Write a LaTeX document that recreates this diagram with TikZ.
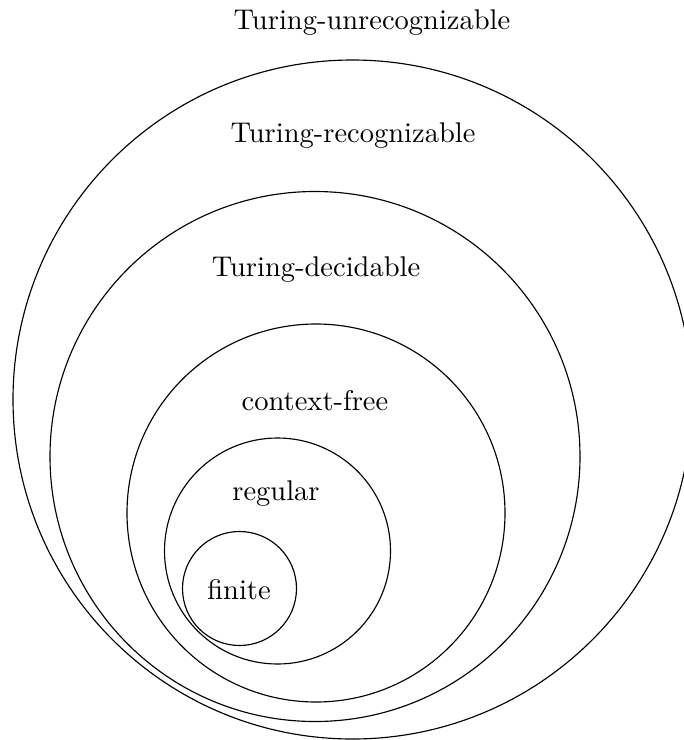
\documentclass[tikz,border=0pt]{standalone}
\begin{document}
\begin{tikzpicture}[x=0.35088pt,y=-0.35088pt,
  ring/.style={draw=black,line width=0.4pt},
  lbl/.style={anchor=base,inner sep=0pt,font=\normalsize}]
\useasboundingbox (0,0) rectangle (684,740);
\clip (0,0) rectangle (684,740);
\draw[ring] (352.5,399.5) circle [radius=339.5];
\draw[ring] (315,456.5) circle [radius=265];
\draw[ring] (316,513) circle [radius=189];
\draw[ring] (277.5,551) circle [radius=113];
\draw[ring] (239.5,588.5) circle [radius=57];
\node[lbl] (tu) at (372,29.3) {Turing-unrecognizable};
\node[lbl] (tr) at (353,142.7) {Turing-recognizable};
\node[lbl] (td) at (316,276) {Turing-decidable};
\node[lbl] (cf) at (315,410.7) {context-free};
\node[lbl] (rg) at (276,500.7) {regular};
\node[lbl] (fi) at (239,599.3) {finite};
\end{tikzpicture}
\end{document}
